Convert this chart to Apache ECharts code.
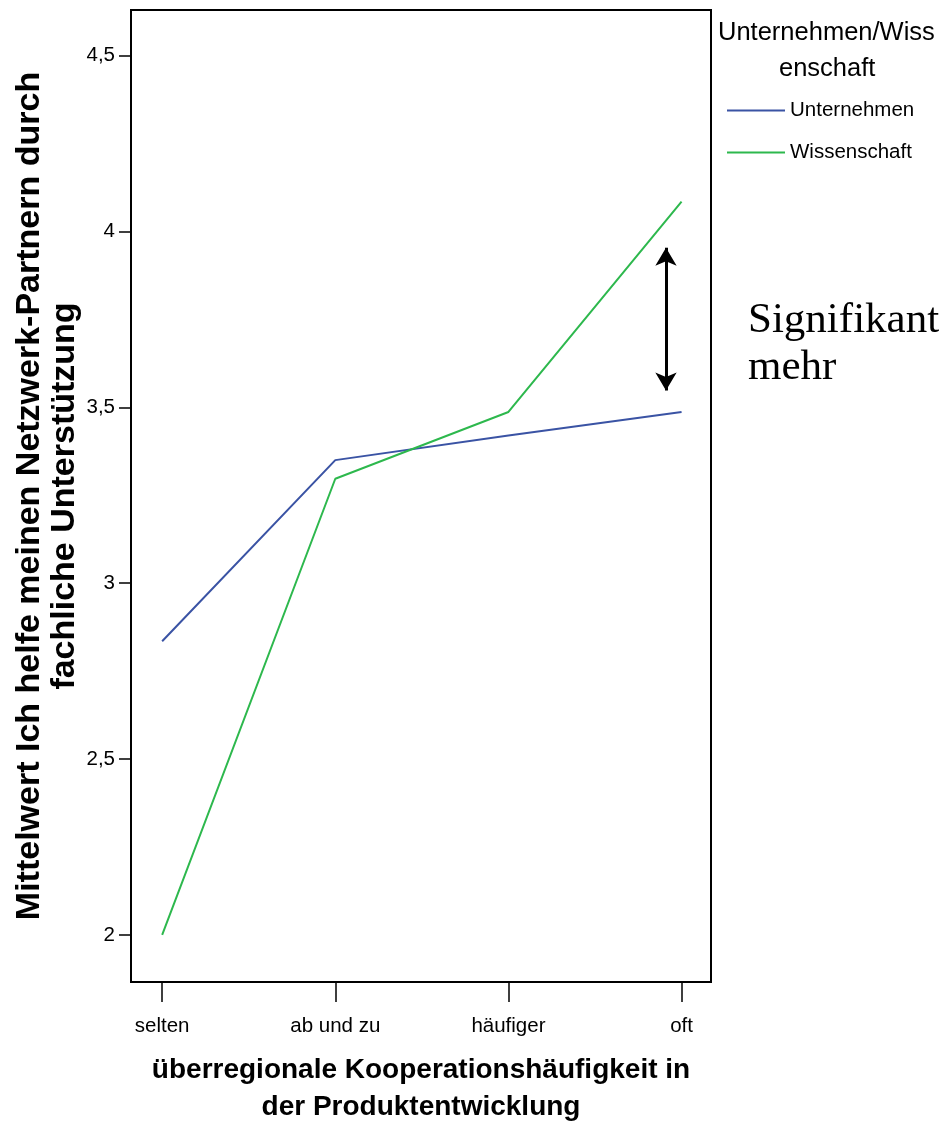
<!DOCTYPE html>
<html><head><meta charset="utf-8">
<script src="https://cdn.jsdelivr.net/npm/echarts@6/dist/echarts.min.js"></script>
<style>html,body{margin:0;padding:0;background:#fff}#c{width:941px;height:1123px}</style>
</head><body><div id="c"></div>
<script>
const categories = ['selten', 'ab und zu', 'häufiger', 'oft'];
const unternehmen = [2.835, 3.35, 3.42, 3.487];
const wissenschaft = [2.0, 3.297, 3.487, 4.085];
const yTicks = [2, 2.5, 3, 3.5, 4, 4.5];
const arrowX = 2.91, arrowTop = 3.954, arrowBottom = 3.548;

const FONT = "'Liberation Sans', Arial, sans-serif";
const chart = echarts.init(document.getElementById('c'));
chart.setOption({
  animation: false,
  backgroundColor: '#fff',
  grid: {left: 131, right: 230, top: 10, bottom: 141, outerBoundsMode: 'none', containLabel: false,
         show: true, borderColor: '#000', borderWidth: 2, backgroundColor: 'transparent'},
  xAxis: {
    type: 'value', min: -0.18, max: 3.17,
    splitLine: {show: false},
    axisLine: {show: true, onZero: false, lineStyle: {color: '#000', width: 2}},
    axisTick: {show: true, customValues: [0, 1, 2, 3], length: 20, lineStyle: {color: '#000', width: 1.5}},
    axisLabel: {customValues: [0, 1, 2, 3], formatter: v => categories[Math.round(v)], color: '#000', fontFamily: FONT, fontSize: 20.5, margin: 34},
    name: 'überregionale Kooperationshäufigkeit in\nder Produktentwicklung',
    nameLocation: 'middle', nameGap: 70, nameMoveOverlap: false,
    nameTextStyle: {color: '#000', fontFamily: FONT, fontWeight: 'bold', fontSize: 28, lineHeight: 37}
  },
  yAxis: {
    type: 'value', min: 1.866, max: 4.63,
    splitLine: {show: false},
    axisLine: {show: true, onZero: false, lineStyle: {color: '#000', width: 2}},
    axisTick: {show: true, customValues: yTicks, length: 12, lineStyle: {color: '#000', width: 1.5}},
    axisLabel: {customValues: yTicks, formatter: v => String(v).replace('.', ','), color: '#000', fontFamily: FONT, fontSize: 20.5, margin: 16},
    name: 'Mittelwert Ich helfe meinen Netzwerk-Partnern durch\nfachliche Unterstützung',
    nameLocation: 'middle', nameGap: 49, nameRotate: 90, nameMoveOverlap: false,
    nameTextStyle: {color: '#000', fontFamily: FONT, fontWeight: 'bold', fontSize: 34, lineHeight: 35}
  },
  legend: {
    orient: 'vertical', left: 722, top: 95, itemGap: 21,
    icon: 'rect', itemWidth: 58, itemHeight: 2,
    textStyle: {color: '#000', fontFamily: FONT, fontSize: 20.5, padding: [0, 0, 0, 0]},
    data: ['Unternehmen', 'Wissenschaft']
  },
  graphic: [
    {type: 'text', left: 718, top: 20, style: {text: 'Unternehmen/Wiss', fill: '#000', font: "25.5px " + FONT}},
    {type: 'text', left: 779, top: 56, style: {text: 'enschaft', fill: '#000', font: "25.5px " + FONT}},
    {type: 'text', left: 748, top: 297, style: {text: 'Signifikant\nmehr', fill: '#000', font: "43px 'Liberation Serif', 'Times New Roman', serif", lineHeight: 47}}
  ],
  series: [
    {name: 'Unternehmen', type: 'line', data: unternehmen.map((v, i) => [i, v]), showSymbol: false, symbol: 'none',
     lineStyle: {color: '#3a53a4', width: 2}, itemStyle: {color: '#3a53a4'}},
    {name: 'Wissenschaft', type: 'line', data: wissenschaft.map((v, i) => [i, v]), showSymbol: false, symbol: 'none',
     lineStyle: {color: '#2db84d', width: 2}, itemStyle: {color: '#2db84d'},
     markLine: {silent: true, symbol: ['arrow', 'arrow'], symbolSize: [16, 18], label: {show: false},
       lineStyle: {color: '#000', width: 3, type: 'solid'},
       data: [[{coord: [arrowX, arrowTop]}, {coord: [arrowX, arrowBottom]}]]}}
  ]
});
</script></body></html>
